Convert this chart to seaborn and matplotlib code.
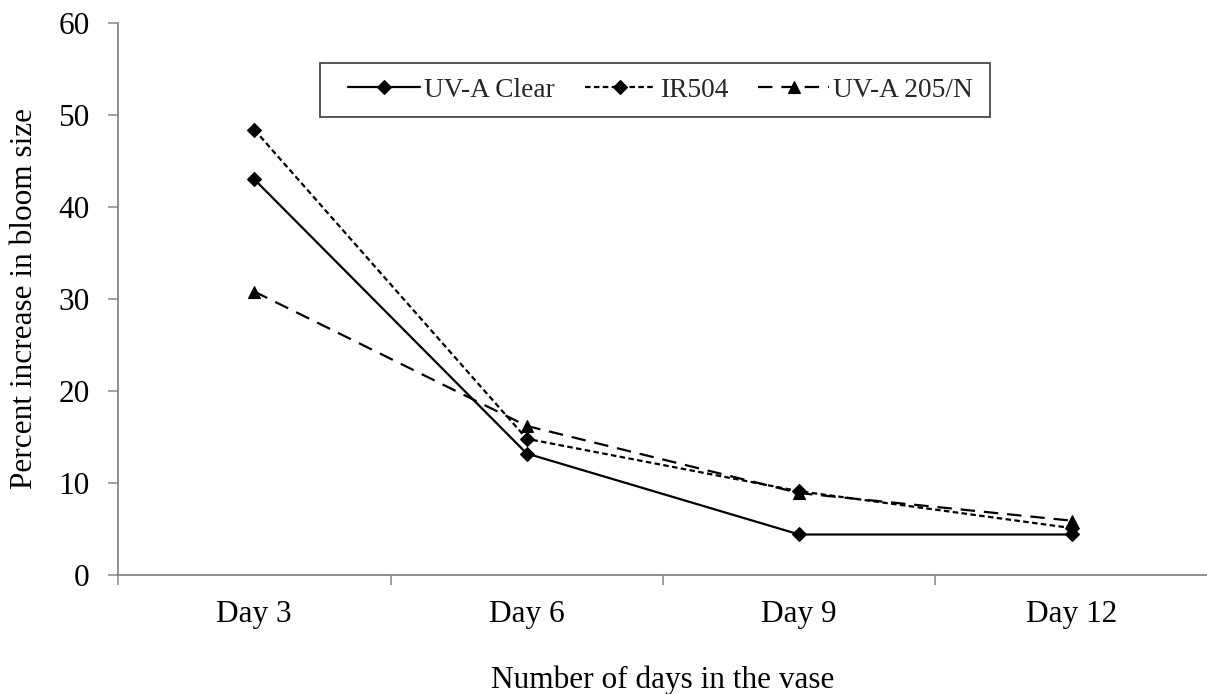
import matplotlib
matplotlib.use("Agg")
import matplotlib.pyplot as plt
from matplotlib.patches import Rectangle
from matplotlib.ticker import FixedLocator
import seaborn as sns
import pandas as pd

# Bloom-size data
days = ["Day 3", "Day 6", "Day 9", "Day 12"]
uva_clear = [43.0, 13.2, 4.4, 4.4]
ir504 = [48.4, 14.8, 9.1, 5.1]
uva_205n = [30.8, 16.2, 8.9, 5.9]
series_names = ["UV-A Clear", "IR504", "UV-A 205/N"]
y_ticks = [0, 10, 20, 30, 40, 50, 60]

sns.set_theme(style="white")
plt.rcParams["font.family"] = ["Liberation Serif", "DejaVu Serif"]

df = pd.DataFrame({
    "day": days * 3,
    "value": uva_clear + ir504 + uva_205n,
    "series": [name for name in series_names for _ in days],
})

fig = plt.figure(figsize=(12.07, 6.94), dpi=100)
ax = fig.add_axes([0.0978, 0.1715, 0.903, 0.7955])

sns.lineplot(
    data=df, x="day", y="value", hue="series", style="series",
    hue_order=series_names, style_order=series_names,
    palette=["black"] * 3,
    markers={"UV-A Clear": "D", "IR504": "D", "UV-A 205/N": "^"},
    dashes={"UV-A Clear": "", "IR504": (2.5, 1.5), "UV-A 205/N": (6.5, 4)},
    sort=False, linewidth=1.6, markeredgecolor="black", markeredgewidth=0.8,
    legend=False, ax=ax,
)

lines = ax.lines[:3]
for ln in lines:
    ln.set_markersize(9 if ln.get_marker() == "^" else 7)

ax.set_xlim(-0.5, 3.5)
ax.set_ylim(0, 60)
ax.set_yticks(y_ticks)

# Axis styling
grey = "#868686"
for side in ("top", "right"):
    ax.spines[side].set_visible(False)
for side in ("left", "bottom"):
    ax.spines[side].set_color(grey)
    ax.spines[side].set_linewidth(1.3)

ax.tick_params(axis="y", which="major", direction="out", length=7.5, width=1.1,
               color=grey, labelsize=22.5, labelcolor="black", pad=13, left=True)
ax.tick_params(axis="x", which="major", length=0, labelsize=22.5,
               labelcolor="black", pad=18, bottom=True)
ax.xaxis.set_minor_locator(FixedLocator([-0.5, 0.5, 1.5, 2.5, 3.5]))
ax.tick_params(axis="x", which="minor", direction="out", length=7, width=1.1,
               color=grey, bottom=True)

ax.set_xlabel("Number of days in the vase", fontsize=22.5, labelpad=26, color="black")
ax.set_ylabel("Percent increase in bloom size", fontsize=22.5, labelpad=14, color="black")

# Legend with a plain rectangular frame
leg = fig.legend(
    handles=lines, labels=series_names, ncol=3, loc="center",
    bbox_to_anchor=(0.5475, 0.8696), frameon=False, fontsize=19.7,
    handlelength=2.6, handletextpad=0.15, columnspacing=1.1, borderpad=0,
    numpoints=1,
)
fig.canvas.draw()
bb = leg.get_window_extent()
pad_l, pad_r, box_h = 28, 17, 54
cy = (bb.y0 + bb.y1) / 2
W, H = fig.bbox.width, fig.bbox.height
frame = Rectangle(((bb.x0 - pad_l) / W, (cy - box_h / 2) / H),
                  (bb.width + pad_l + pad_r) / W, box_h / H,
                  transform=fig.transFigure, fill=False,
                  edgecolor="#3a3a3a", linewidth=1.2, zorder=5)
fig.patches.append(frame)

fig.savefig("out.png", dpi=100, facecolor="white")
